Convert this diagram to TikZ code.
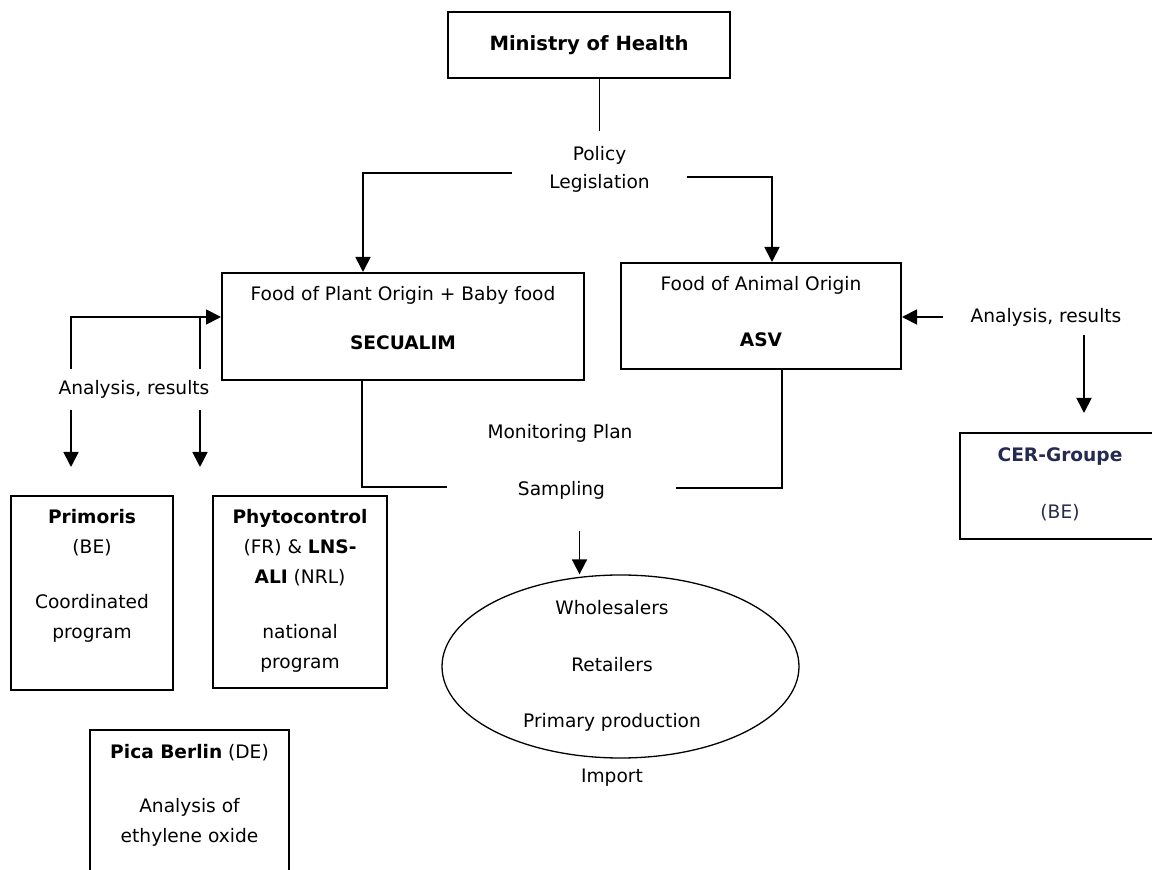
\documentclass[tikz,border=0pt]{standalone}
\usepackage{fontspec}
\setmainfont{DejaVu Sans}
\usetikzlibrary{shapes, arrows.meta, positioning}
\definecolor{cernavy}{RGB}{38,42,80}
\tikzstyle{block} = [draw, line width=1pt, rectangle, inner sep=0pt]
\tikzstyle{oval} = [draw, line width=0.65pt, ellipse, inner sep=0pt, align=center]
\tikzstyle{txt} = [align=center, inner sep=0pt]

\begin{document}
\begin{tikzpicture}[x=0.5pt, y=-0.5pt, >={Triangle[length=7.5pt,width=7.5pt]},
    line width=0.9pt, font=\fontsize{9.3}{15}\selectfont]
  \useasboundingbox (0,0) rectangle (1152,870);
  % boxes
  \node[block, minimum width=141pt, minimum height=33pt,
        font=\fontsize{9.8}{12}\selectfont\bfseries] (ministry) at (589,45) {Ministry of Health};
  \node[block, minimum width=181pt, minimum height=53.5pt] (plant) at (403,326.5) {};
  \node[txt] (plantTxt) at (403,318.5) {Food of Plant Origin + Baby food\\[9.5pt]\textbf{SECUALIM}};
  \node[block, minimum width=140pt, minimum height=53pt] (asv) at (761,316) {};
  \node[txt] (asvTxt) at (761,312) {Food of Animal Origin\\[13pt]\textbf{ASV}};
  \node[block, minimum width=100pt, minimum height=53pt] (cer) at (1060,486) {};
  \node[txt, text=cernavy] (cerTxt) at (1060,484.5) {\textbf{CER-Groupe}\\[13.5pt](BE)};
  \node[block, minimum width=81pt, minimum height=97pt] (prim) at (92,593) {};
  \node[txt] (primTxt) at (92,575.5) {\textbf{Primoris}\\(BE)\\[12.5pt]Coordinated\\program};
  \node[block, minimum width=87pt, minimum height=96pt] (phyto) at (300,592) {};
  \node[txt] (phytoTxt) at (300,590.5) {\textbf{Phytocontrol}\\(FR) \& \textbf{LNS-}\\\textbf{ALI} (NRL)\\[12.5pt]national\\program};
  \node[block, minimum width=99.5pt, minimum height=85pt] (pica) at (189.5,815) {};
  \node[txt] (picaTxt) at (189.5,795) {\textbf{Pica Berlin} (DE)\\[12pt]Analysis of\\ethylene oxide};
  \node[oval, minimum width=178.5pt, minimum height=91.5pt] (market) at (620.5,666.5) {};
  \node[txt] (marketTxt) at (612,666) {Wholesalers\\[13.25pt]Retailers\\[13.25pt]Primary production};
  \node[txt] (import) at (612,778) {Import};

  % labels on the lines
  \node[txt, minimum width=86.5pt, inner ysep=7pt] (policy) at (599.5,169) {Policy\\[-1pt]Legislation};
  \node[txt] (plan) at (560,433) {Monitoring Plan};
  \node[txt, minimum width=113.5pt, minimum height=20pt] (sampling) at (561.5,490) {Sampling};
  \node[txt, minimum height=19.5pt] (anaL) at (134,389.5) {Analysis, results};
  \node[txt, minimum width=102pt, minimum height=17pt] (anaR) at (1046,317) {Analysis, results};

  \coordinate (primIn) at (71,467);
  \coordinate (phytoIn) at (200,467);
  \coordinate (cerIn) at (1084,413);
  \coordinate (plantIn) at ([yshift=4.75pt]plant.west);

  % connectors
  \draw (policy.north) -- (policy.north |- ministry.south);
  \draw[->] ([yshift=-2pt]policy.west) -| ([xshift=-20pt]plant.north);
  \draw[->] ([yshift=-4pt]policy.east) -| ([xshift=5.5pt]asv.north);
  \draw ([xshift=-20.5pt]plant.south) |- ([yshift=1.5pt]sampling.west);
  \draw ([xshift=10.5pt]asv.south) |- ([yshift=1pt]sampling.east);
  \draw[->] ([xshift=9pt,yshift=-10pt]sampling.south) -- ([xshift=9pt]sampling.south |- market.north);
  \draw[->] (anaL.north -| primIn) |- (plantIn);
  \draw (anaL.north -| phytoIn) -- (phytoIn |- plantIn);
  \draw[->] (anaL.south -| primIn) -- (primIn);
  \draw[->] (anaL.south -| phytoIn) -- (phytoIn);
  \draw[->] (anaR.west) -- (anaR.west -| asv.east);
  \draw[->] (anaR.south -| cerIn) -- (cerIn);
\end{tikzpicture}
\end{document}
